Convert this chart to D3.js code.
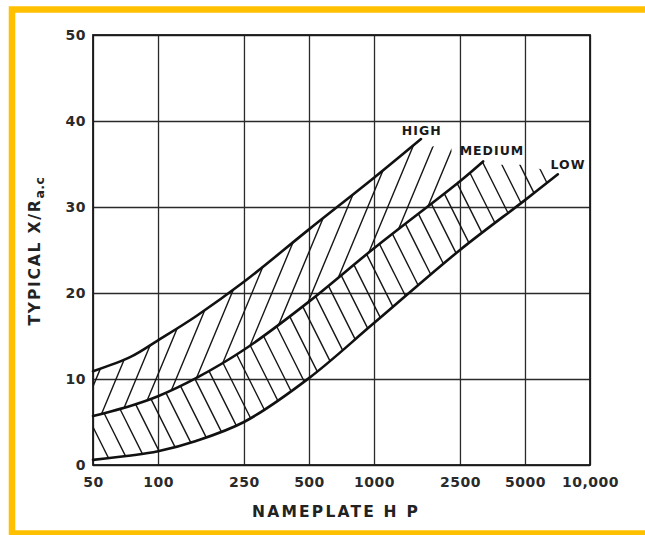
<!DOCTYPE html>
<html><head><meta charset="utf-8">
<script src="https://cdn.jsdelivr.net/npm/d3@7"></script>
<style>body{margin:0;background:#fff}svg{display:block}</style>
</head><body><svg id="c" width="645" height="535"></svg>
<script>
// ---- data ----
const xTicks = [50, 100, 250, 500, 1000, 2500, 5000, 10000];
const xTickLabels = ["50", "100", "250", "500", "1000", "2500", "5000", "10,000"];
const yTicks = [0, 10, 20, 30, 40, 50];
const highCurve = [[50,10.9],[75,12.6],[100,14.5],[150,17.3],[250,21.3],[500,27.4],[1000,33.4],[1650,37.9]];
const mediumCurve = [[50,5.7],[75,6.9],[100,8.0],[150,10.1],[250,13.4],[500,19.0],[1000,25.2],[2500,33.0],[3200,35.3]];
const lowCurve = [[50,0.6],[75,1.1],[100,1.6],[150,2.8],[250,5.0],[500,10.1],[1000,16.5],[2500,25.0],[5000,30.8],[7100,33.8]];
const highHatchEnd = [[1750,36.8],[2250,37.7],[2350,34.6],[2450,32.7]];
const mediumHatchEnd = [[3450,34.9],[5000,34.9],[6500,34.1]];
const bandNames = ["HIGH", "MEDIUM", "LOW"];
const bandLabelHp = [1663, 3516, 7907];
const bandLabelVal = [38.95, 36.6, 35.0];

// ---- layout ----
const L = 93, R = 590, T = 35, B = 465;
const svg = d3.select("#c");
const x = d3.scaleLog().domain([50, 10000]).range([L, R]);
const y = d3.scaleLinear().domain([0, 50]).range([B, T]);
const font = "'DejaVu Sans', sans-serif";

// yellow border
svg.append("rect").attr("x", 12).attr("y", 9.5).attr("width", 700).attr("height", 524)
  .attr("fill", "none").attr("stroke", "#FFC000").attr("stroke-width", 6.5);

// grid via axes
const gx = svg.append("g").attr("transform", `translate(0,${B})`)
  .call(d3.axisBottom(x).tickValues(xTicks).tickSize(-(B - T)).tickFormat(""));
const gy = svg.append("g").attr("transform", `translate(${L},0)`)
  .call(d3.axisLeft(y).tickValues(yTicks).tickSize(-(R - L)).tickFormat(""));
[gx, gy].forEach(g => {
  g.select(".domain").remove();
  g.selectAll("line").attr("stroke", "#2a2a2a").attr("stroke-width", 1.3);
});

// frame
svg.append("rect").attr("x", L).attr("y", T).attr("width", R - L).attr("height", B - T)
  .attr("fill", "none").attr("stroke", "#1a1a1a").attr("stroke-width", 1.8);

// tick labels
const lx = svg.append("g").attr("transform", `translate(0,${B})`)
  .call(d3.axisBottom(x).tickValues(xTicks).tickSize(0).tickPadding(12).tickFormat((d, i) => xTickLabels[i]));
const ly = svg.append("g").attr("transform", `translate(${L},0)`)
  .call(d3.axisLeft(y).tickValues(yTicks).tickSize(0).tickPadding(7).tickFormat(d3.format("d")));
[lx, ly].forEach(g => {
  g.select(".domain").remove();
  g.selectAll("text").attr("font-family", font).attr("font-size", 14).attr("font-weight", "bold")
    .attr("fill", "#2a2a2a").attr("letter-spacing", 0.5);
});

// curve helpers
const line = d3.line().x(d => x(d[0])).y(d => y(d[1])).curve(d3.curveCatmullRom.alpha(0.5));
const pts = arr => arr.map(d => `L${x(d[0])},${y(d[1])}`).join("");

// clip regions
const defs = svg.append("defs");
const highClipD = line(highCurve) + pts(highHatchEnd) + "L" +
  line(mediumCurve.filter(d => d[0] <= 1000).slice().reverse()).slice(1) + "Z";
const lowClipD = line(mediumCurve) + pts(mediumHatchEnd) + "L" +
  line(lowCurve.slice().reverse()).slice(1) + "Z";
defs.append("clipPath").attr("id", "clipHigh").append("path").attr("d", highClipD);
defs.append("clipPath").attr("id", "clipLow").append("path").attr("d", lowClipD);

// hatching
const yRef = 300;
const hatchHigh = svg.append("g").attr("clip-path", "url(#clipHigh)");
const sH = 2.4;
for (let cx = 189 - 20 * 14; cx < 700; cx += 20) {
  hatchHigh.append("line").attr("x1", cx - 250).attr("y1", yRef + sH * 250)
    .attr("x2", cx + 250).attr("y2", yRef - sH * 250);
}
const hatchLow = svg.append("g").attr("clip-path", "url(#clipLow)");
const sL = 2.0;
for (let cx = 83.5 - 18 * 6; cx < 800; cx += 18) {
  hatchLow.append("line").attr("x1", cx - 250).attr("y1", yRef - sL * 250)
    .attr("x2", cx + 250).attr("y2", yRef + sL * 250);
}
svg.selectAll("g[clip-path] line").attr("stroke", "#151515").attr("stroke-width", 1.4);

// boundary curves
[highCurve, mediumCurve, lowCurve].forEach(c => {
  svg.append("path").attr("d", line(c)).attr("fill", "none")
    .attr("stroke", "#111").attr("stroke-width", 2.6).attr("stroke-linecap", "round");
});

// band labels
bandNames.forEach((n, i) => {
  svg.append("text").attr("x", x(bandLabelHp[i])).attr("y", y(bandLabelVal[i]))
    .attr("text-anchor", "middle").attr("dominant-baseline", "central")
    .attr("font-family", font).attr("font-size", 12.5).attr("font-weight", "bold")
    .attr("letter-spacing", 1).attr("fill", "#1a1a1a").text(n);
});

// axis titles
svg.append("text").attr("x", 336).attr("y", 512).attr("text-anchor", "middle")
  .attr("dominant-baseline", "central").attr("font-family", font).attr("font-size", 15.5)
  .attr("font-weight", "bold").attr("letter-spacing", 2.2).attr("fill", "#222").text("NAMEPLATE H P");
const yt = svg.append("text").attr("transform", "translate(40,251) rotate(-90)")
  .attr("text-anchor", "middle").attr("font-family", font).attr("font-size", 15.5)
  .attr("font-weight", "bold").attr("letter-spacing", 1.8).attr("fill", "#222");
yt.append("tspan").text("TYPICAL X/R");
yt.append("tspan").attr("dy", 4).attr("font-size", 12.5).attr("letter-spacing", 0.5).text("a.c");
</script></body></html>
